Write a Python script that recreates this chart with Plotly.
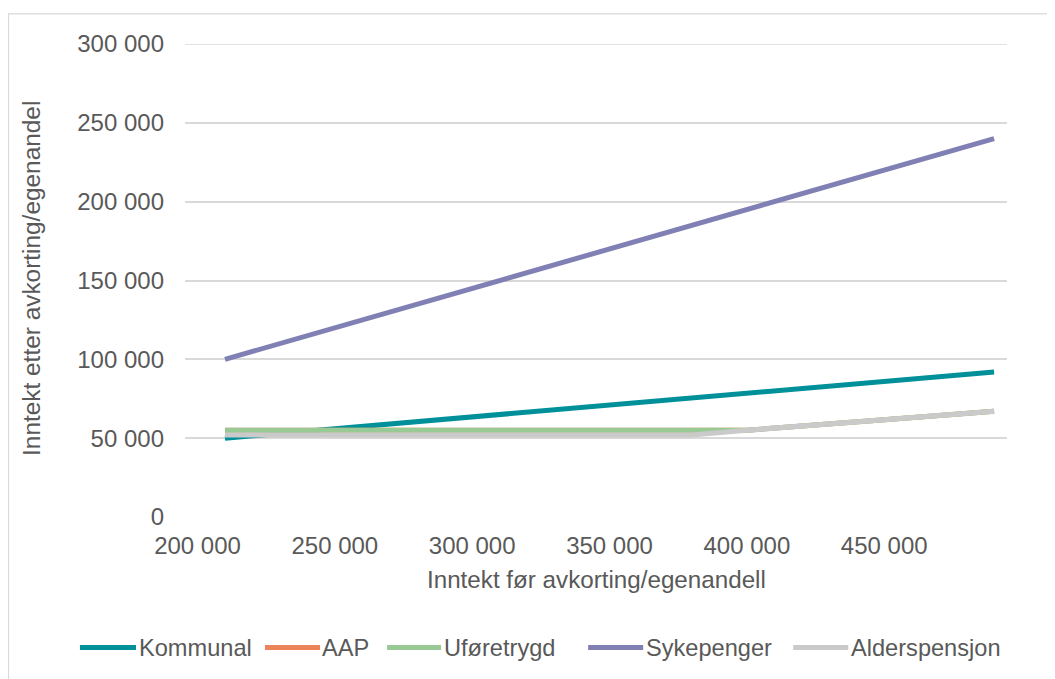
import plotly.graph_objects as go

# ---- data ----
inntekt_for = [210000, 250000, 300000, 350000, 380000, 400000, 450000, 490000]
kommunal = [50000, 56000, 63500, 71000, 75500, 78500, 86000, 92000]
aap = [55000, 55000, 55000, 55000, 55000, 55000, 61700, 67000]
uforetrygd = [55000, 55000, 55000, 55000, 55000, 55000, 61700, 67000]
sykepenger = [100000, 120000, 145000, 170000, 185000, 195000, 220000, 240000]
alderspensjon = [52000, 52000, 52000, 52000, 52000, 55000, 61700, 67000]

series_names = ["Kommunal", "AAP", "Uføretrygd", "Sykepenger", "Alderspensjon"]
series_values = [kommunal, aap, uforetrygd, sykepenger, alderspensjon]
series_colors = ["#00909A", "#EC8459", "#99CA96", "#8080B4", "#CACACA"]

x_ticks = [200000, 250000, 300000, 350000, 400000, 450000]
y_ticks = [0, 50000, 100000, 150000, 200000, 250000, 300000]

x_title = "Inntekt før avkorting/egenandell"
y_title = "Inntekt etter avkorting/egenandel"

FONT = "Liberation Sans, Arial, sans-serif"
TXT = "#595959"
GRID = "#D9D9D9"

OFF = 8  # page body margin
W, H = 1055 - OFF, 679 - OFF
# plot area in reference page pixels: x 185..1006.7, y 44..517.3
PX0, PX1, PY0, PY1 = 185, 1006.7, 43.7, 517.3
L = PX0 - OFF
R = W - (PX1 - OFF)
T = PY0 - OFF
B = H - (PY1 - OFF)
pw, ph = PX1 - PX0, PY1 - PY0


def px(xp):
    return (xp - PX0) / pw


def py(yp):
    return (PY1 - yp) / ph


fig = go.Figure()
for name, vals, col in zip(series_names, series_values, series_colors):
    fig.add_trace(go.Scatter(
        x=inntekt_for, y=vals, mode="lines", name=name,
        line=dict(color=col, width=5), showlegend=False,
    ))

shapes = []
annotations = []

# outer border (light frame)
shapes.append(dict(type="rect", xref="paper", yref="paper",
                   x0=px(8.5), x1=px(1070), y0=py(700), y1=py(13.5),
                   line=dict(color=GRID, width=1.3), fillcolor="rgba(0,0,0,0)",
                   layer="below"))

# custom legend
leg_y = 648
leg_items = [(80, 136, 137), (265, 320, 320), (387, 441, 442), (588, 643, 644), (793, 848, 849)]
for (x0, x1, xt), name, col in zip(leg_items, series_names, series_colors):
    shapes.append(dict(type="line", xref="paper", yref="paper",
                       x0=px(x0), x1=px(x1), y0=py(leg_y), y1=py(leg_y),
                       line=dict(color=col, width=5)))
    annotations.append(dict(xref="paper", yref="paper", x=px(xt), y=py(leg_y),
                            text=name, showarrow=False, xanchor="left", yanchor="middle",
                            font=dict(family=FONT, size=23.6, color=TXT)))

# axis titles
annotations.append(dict(xref="paper", yref="paper", x=px(596), y=py(580),
                        text=x_title, showarrow=False, xanchor="center", yanchor="middle",
                        font=dict(family=FONT, size=24.2, color=TXT)))
annotations.append(dict(xref="paper", yref="paper", x=px(31), y=py(278),
                        text=y_title, showarrow=False, xanchor="center", yanchor="middle",
                        textangle=-90,
                        font=dict(family=FONT, size=24.4, color=TXT)))

fig.update_layout(
    width=W, height=H,
    margin=dict(l=L, r=R, t=T, b=B, pad=0),
    paper_bgcolor="white", plot_bgcolor="white",
    separators=", ",
    font=dict(family=FONT, size=24, color=TXT),
    shapes=shapes, annotations=annotations,
    showlegend=False,
    xaxis=dict(range=[195450, 494700], tickvals=x_ticks, tickformat=",d",
               showgrid=False, zeroline=False, showline=False, ticks="",
               ticklabelstandoff=12,
               tickfont=dict(family=FONT, size=24, color=TXT)),
    yaxis=dict(range=[0, 300000], tickvals=y_ticks, tickformat=",d",
               showgrid=True, gridcolor=GRID, gridwidth=1.5,
               zeroline=False, showline=False, ticks="",
               ticklabelstandoff=20,
               tickfont=dict(family=FONT, size=24, color=TXT)),
)
# top gridline at 300 000 (edge gridline is not drawn by plotly)
fig.add_hline(y=300000, line=dict(color=GRID, width=1.5), layer="below")

fig.write_html("out.html")
